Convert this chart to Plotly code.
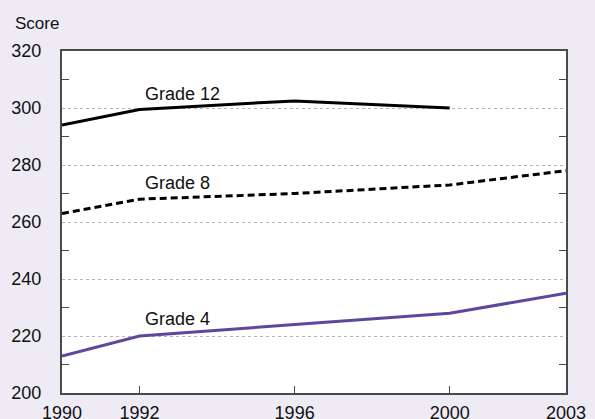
import plotly.graph_objects as go

# Average scores by grade
years = [1990, 1992, 1996, 2000, 2003]
grade4 = [213, 220, 224, 228, 235]
grade8 = [263, 268, 270, 273, 278]
grade12_years = [1990, 1992, 1996, 2000]
grade12 = [294, 299.5, 302.5, 300]

y_labels = [200, 220, 240, 260, 280, 300, 320]
y_minor = [210, 230, 250, 270, 290, 310]

FONT = "Liberation Sans, Arial, Helvetica, sans-serif"
BG = "#EEEBF5"
PURPLE = "#5F479E"
AXIS = "#4a4a4a"
FS = 18

fig = go.Figure()

fig.add_trace(go.Scatter(x=grade12_years, y=grade12, mode="lines",
                         line=dict(color="black", width=3), name="Grade 12"))
fig.add_trace(go.Scatter(x=years, y=grade8, mode="lines",
                         line=dict(color="black", width=3, dash="7px,4px"),
                         name="Grade 8"))
fig.add_trace(go.Scatter(x=years, y=grade4, mode="lines",
                         line=dict(color=PURPLE, width=3), name="Grade 4"))

# dummy trace so the right-hand axis gets drawn
fig.add_trace(go.Scatter(x=[1990], y=[200], yaxis="y2", mode="markers",
                         marker=dict(opacity=0), showlegend=False,
                         hoverinfo="skip"))

# line labels
for txt, yv in [("Grade 12", 305), ("Grade 8", 273.8), ("Grade 4", 225.9)]:
    fig.add_annotation(x=1992.1, y=yv, text=txt, showarrow=False,
                       xanchor="left", yanchor="middle",
                       font=dict(size=FS, color="#111", family=FONT))

fig.add_annotation(xref="paper", yref="paper", x=-0.097, y=1.079,
                   text="Score", showarrow=False, xanchor="left",
                   yanchor="middle",
                   font=dict(size=FS - 1, color="#111", family=FONT))

fig.update_layout(
    width=595, height=419,
    margin=dict(l=62, r=29, t=51, b=26, autoexpand=False),
    paper_bgcolor=BG, plot_bgcolor="white",
    showlegend=False,
    font=dict(family=FONT, size=FS, color="#111"),
    xaxis=dict(
        range=[1990, 2003], tickvals=years, automargin=False,
        ticks="inside", ticklen=7, tickcolor=AXIS, tickwidth=1,
        showgrid=False, zeroline=False,
        showline=True, linecolor=AXIS, linewidth=2, mirror=True,
        tickfont=dict(size=FS), ticklabelstandoff=2,
    ),
    yaxis=dict(
        range=[200, 320], tickvals=y_labels, automargin=False,
        ticks="", showgrid=True, gridcolor="#b5b5b5", griddash="dot",
        gridwidth=1, zeroline=False,
        showline=True, linecolor=AXIS, linewidth=2, mirror=True,
        tickfont=dict(size=FS), ticklabelstandoff=15,
        minor=dict(tickvals=y_minor, ticks="inside", ticklen=7,
                   tickcolor=AXIS, showgrid=False),
    ),
    yaxis2=dict(
        range=[200, 320], overlaying="y", side="right", automargin=False,
        tickvals=y_minor, ticks="inside", ticklen=7, tickcolor=AXIS,
        showticklabels=False, showgrid=False, zeroline=False,
    ),
)

# drop the browser's default body margin so the figure sits at 0,0
fig.write_html(
    "out.html",
    config={"displayModeBar": False},
    post_script="document.body.style.margin='0';"
                "document.body.style.background='%s';" % BG,
)
